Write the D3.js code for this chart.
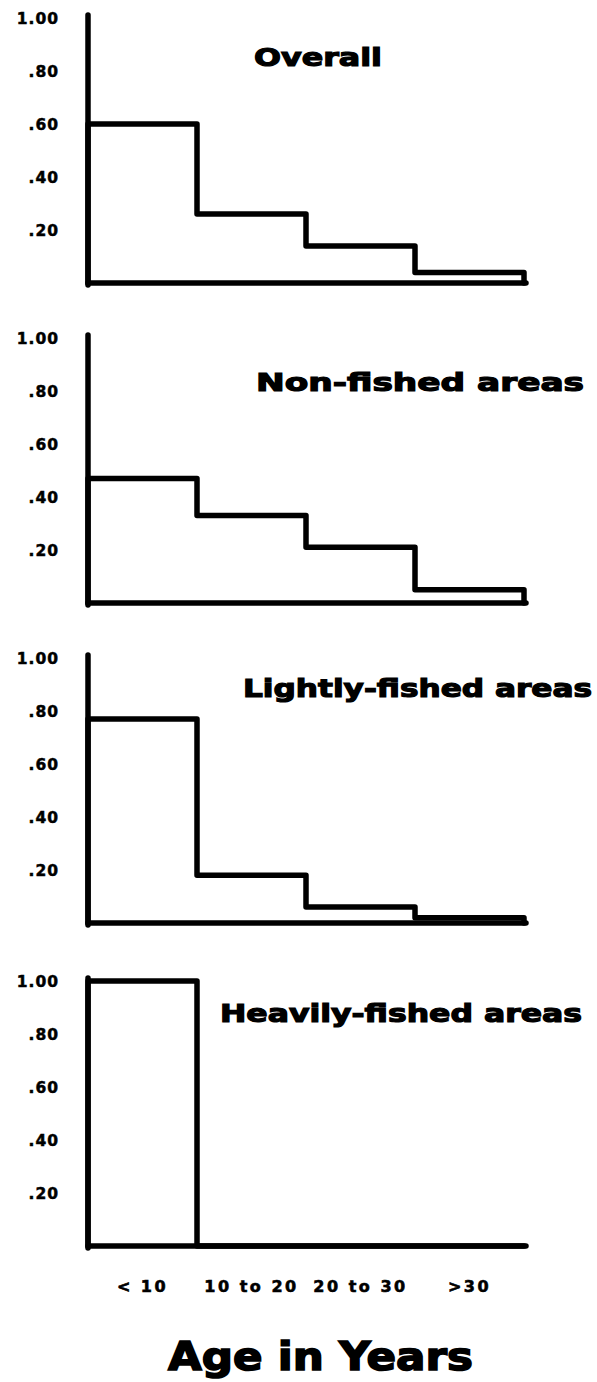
<!DOCTYPE html>
<html>
<head>
<meta charset="utf-8">
<script src="https://cdn.jsdelivr.net/npm/d3@7"></script>
<style>
  html, body { margin: 0; padding: 0; background: #fff; }
  svg { display: block; }
  text { font-family: "DejaVu Sans", "Liberation Sans", Arial, sans-serif; font-weight: bold; fill: #000; }
</style>
</head>
<body>
<svg id="chart" width="597" height="1382"></svg>
<script>
// ---- data ----
const categories = ["< 10", "10 to 20", "20 to 30", ">30"];
const yTickValues = [0.2, 0.4, 0.6, 0.8, 1.0];
const yTickLabels = [".20", ".40", ".60", ".80", "1.00"];
const panelTitles = ["Overall", "Non-fished areas", "Lightly-fished areas", "Heavily-fished areas"];
const overall = [0.60, 0.26, 0.14, 0.04];
const nonFished = [0.47, 0.33, 0.21, 0.05];
const lightlyFished = [0.77, 0.18, 0.06, 0.02];
const heavilyFished = [1.00, 0.00, 0.00, 0.00];
const xAxisTitle = "Age in Years";

const series = [overall, nonFished, lightlyFished, heavilyFished];

// ---- layout ----
const svg = d3.select("#chart");
const left = 88, right = 524;
const baselines = [283, 603, 923, 1246];
const plotH = 265;
const titleLayout = [
  {x: 254, y: 66, len: 128},
  {x: 256, y: 391, len: 328},
  {x: 243, y: 697, len: 349},
  {x: 220, y: 1022, len: 362}
];

const x = d3.scaleBand().domain(categories).range([left, right]).padding(0);

series.forEach((vals, p) => {
  const base = baselines[p];
  const y = d3.scaleLinear().domain([0, 1]).range([base, base - plotH]);
  const g = svg.append("g");

  // y tick labels
  const yAxis = d3.axisLeft(y)
    .tickValues(yTickValues)
    .tickFormat((d, i) => yTickLabels[i])
    .tickSize(0)
    .tickPadding(0);
  const ag = g.append("g").attr("transform", "translate(59,0)").call(yAxis);
  ag.select(".domain").remove();
  ag.selectAll("text")
    .attr("font-size", 15.5)
    .attr("font-family", "DejaVu Sans")
    .attr("font-weight", "bold")
    .attr("letter-spacing", "1px")
    .attr("stroke", "#000")
    .attr("stroke-width", 0.5)
    .attr("dy", "0.36em");

  // vertical axis line
  g.append("line")
    .attr("x1", left).attr("x2", left)
    .attr("y1", y(1) - 3).attr("y2", base + 2)
    .attr("stroke", "#000").attr("stroke-width", 5.5).attr("stroke-linecap", "round");

  // baseline
  g.append("line")
    .attr("x1", left).attr("x2", right + 2)
    .attr("y1", base).attr("y2", base)
    .attr("stroke", "#000").attr("stroke-width", 5.5).attr("stroke-linecap", "round");

  // step outline
  const pts = [[x(categories[0]), y(0)]];
  vals.forEach((v, i) => pts.push([x(categories[i]), y(v)]));
  pts.push([right, y(vals[vals.length - 1])]);
  pts.push([right, y(0)]);
  const line = d3.line().curve(d3.curveStepAfter);
  g.append("path")
    .attr("d", line(pts))
    .attr("fill", "none")
    .attr("stroke", "#000")
    .attr("stroke-width", 5.5)
    .attr("stroke-linejoin", "round")
    .attr("stroke-linecap", "round");

  // title
  const t = titleLayout[p];
  g.append("text")
    .attr("x", t.x).attr("y", t.y)
    .attr("font-size", 25)
    .attr("stroke", "#000")
    .attr("stroke-width", 1.2)
    .attr("textLength", t.len)
    .attr("lengthAdjust", "spacingAndGlyphs")
    .text(panelTitles[p]);
});

// x category labels
svg.append("g").selectAll("text")
  .data(categories)
  .join("text")
  .attr("x", d => x(d) + x.bandwidth() / 2)
  .attr("y", 1292)
  .attr("text-anchor", "middle")
  .attr("font-size", 16)
  .attr("letter-spacing", "2.5px")
  .attr("stroke", "#000")
  .attr("stroke-width", 0.6)
  .text(d => d);

// x axis title
svg.append("text")
  .attr("x", 168).attr("y", 1370)
  .attr("font-size", 39)
  .attr("stroke", "#000")
  .attr("stroke-width", 1.6)
  .attr("textLength", 305)
  .attr("lengthAdjust", "spacingAndGlyphs")
  .text(xAxisTitle);
</script>
</body>
</html>
